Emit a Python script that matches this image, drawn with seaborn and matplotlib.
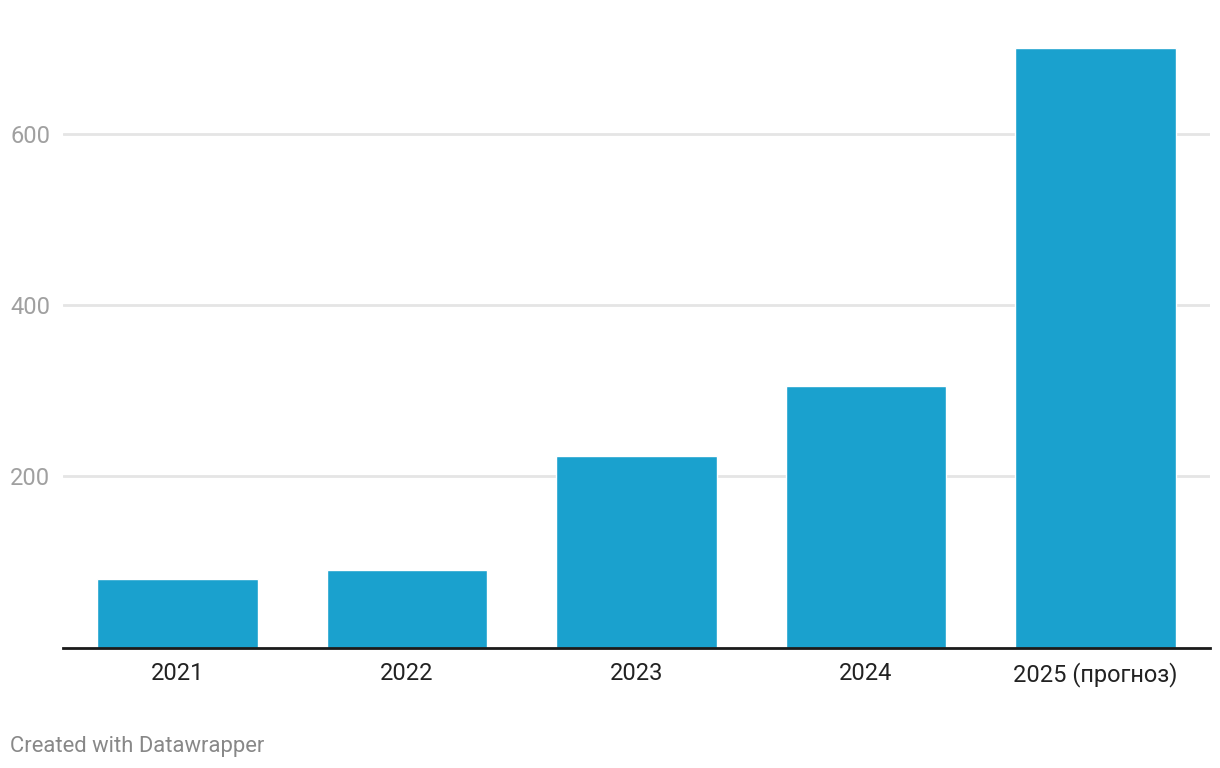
import matplotlib
matplotlib.use("Agg")
import matplotlib.pyplot as plt
import seaborn as sns
import pandas as pd

categories = ["2021", "2022", "2023", "2024", "2025 (прогноз)"]
values = [80, 90, 224, 305, 700]
ytick_values = [200, 400, 600]

sns.set_theme(style="white")
plt.rcParams["font.family"] = ["Roboto", "DejaVu Sans"]

W, H = 1220, 768
fig = plt.figure(figsize=(W / 100, H / 100), dpi=100)
left_px, right_px, base_px, top_px = 63, 1210, 647.5, 30
ax = fig.add_axes([left_px / W, (H - base_px) / H, (right_px - left_px) / W, (base_px - top_px) / H])

df = pd.DataFrame({"cat": categories, "val": values})
sns.barplot(data=df, x="cat", y="val", color="#1aa1ce", width=0.7, saturation=1, ax=ax, zorder=3)

ax.set_xlim(-0.5, len(categories) - 0.5)
ax.set_ylim(0, (base_px - top_px) / 0.8565)
ax.set_yticks(ytick_values)
ax.set_yticklabels([str(v) for v in ytick_values])
ax.grid(axis="y", color="#e5e5e5", linewidth=2, zorder=0)
ax.grid(axis="x", visible=False)
for s in ["left", "right", "top"]:
    ax.spines[s].set_visible(False)
ax.spines["bottom"].set_color("#1a1a1a")
ax.spines["bottom"].set_linewidth(2)
ax.spines["bottom"].set_zorder(4)
ax.set_xlabel("")
ax.set_ylabel("")

ax.tick_params(axis="y", length=0, pad=38, labelsize=17, labelcolor="#a0a0a0")
for lbl in ax.get_yticklabels():
    lbl.set_horizontalalignment("left")
ax.tick_params(axis="x", length=0, pad=10.5, labelsize=17, labelcolor="#222222")

fig.text(10 / W, 16 / H, "Created with Datawrapper", fontsize=15.8, color="#888888",
         ha="left", va="baseline")

fig.savefig("out.png", dpi=100, facecolor="white")
